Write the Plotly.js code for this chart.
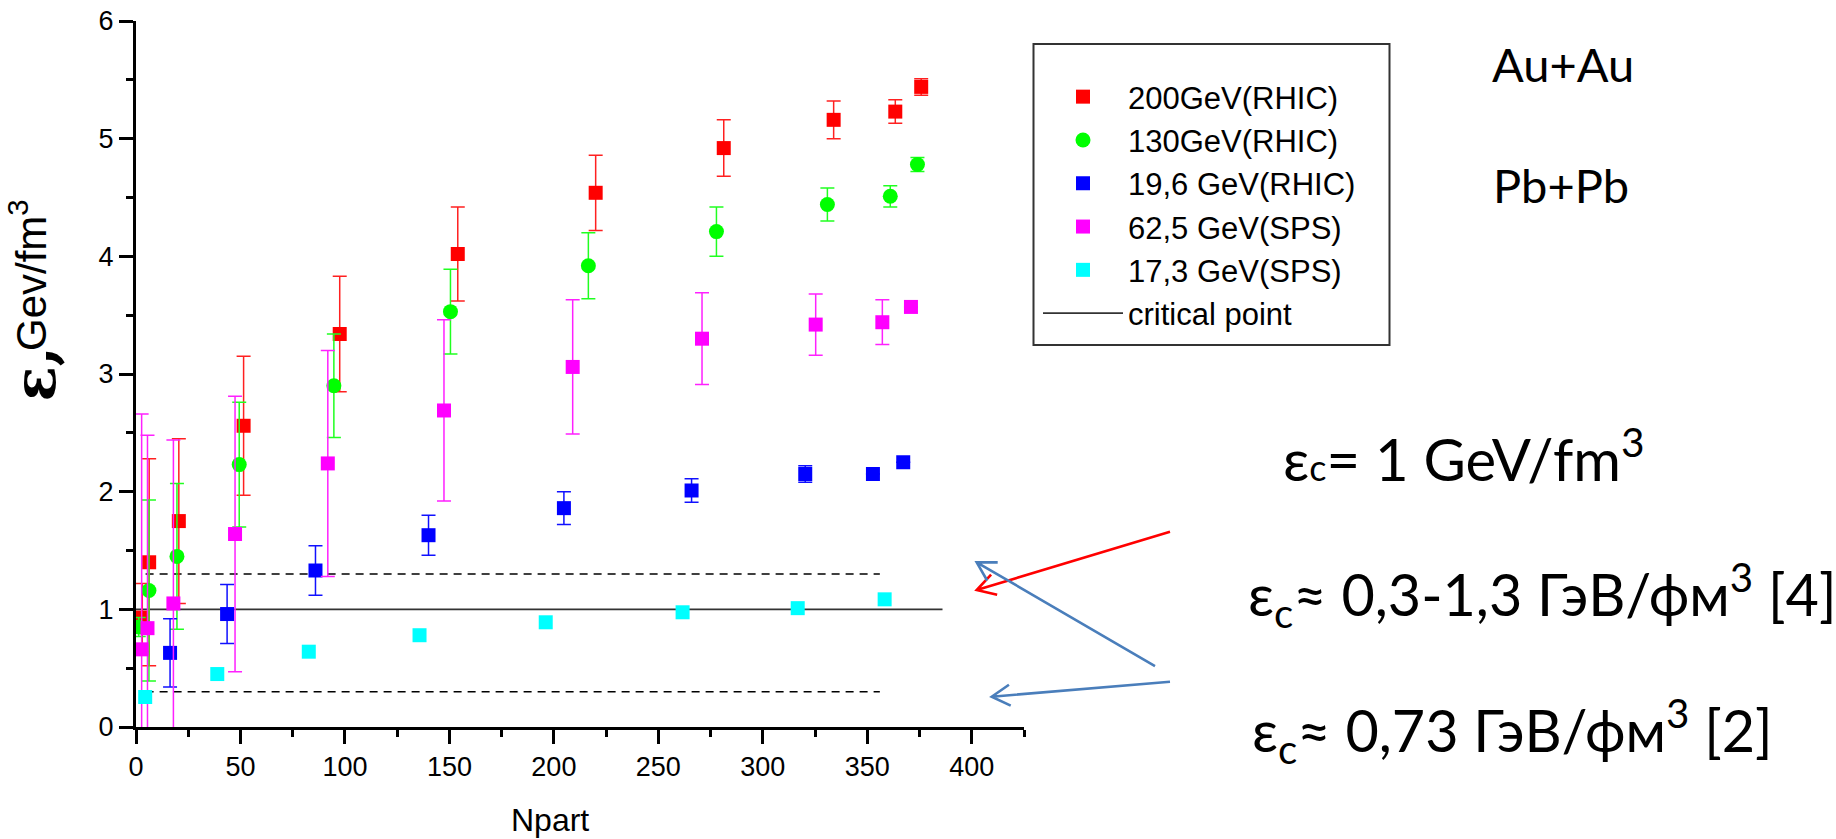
<!DOCTYPE html>
<html><head><meta charset="utf-8">
<script src="https://cdn.plot.ly/plotly-3.0.1.min.js"></script>
<style>html,body{margin:0;padding:0;background:#fff}#chart{width:1836px;height:839px}</style>
</head><body><div id="chart"></div>
<script>
// ---- data ----
const seriesNames = ['200GeV(RHIC)', '130GeV(RHIC)', '19,6 GeV(RHIC)', '62,5 GeV(SPS)', '17,3 GeV(SPS)'];

const redX   = [3, 6.3, 20.5, 51.5, 97.5, 154, 220, 281.3, 333.9, 363.4, 375.8];
const redY   = [0.93, 1.40, 1.75, 2.56, 3.34, 4.02, 4.54, 4.92, 5.16, 5.23, 5.44];
const redErr = [0.29, 0.88, 0.70, 0.59, 0.49, 0.40, 0.32, 0.24, 0.16, 0.10, 0.07];

const greenX   = [1.3, 6.2, 19.6, 49.4, 94.7, 150.5, 216.5, 277.8, 330.9, 361, 374];
const greenY   = [0.85, 1.16, 1.45, 2.23, 2.90, 3.53, 3.92, 4.21, 4.44, 4.51, 4.78];
const greenErr = [0.08, 0.77, 0.62, 0.53, 0.44, 0.36, 0.28, 0.21, 0.14, 0.09, 0.06];

const blueX   = [16.3, 43.6, 85.9, 140, 204.8, 265.9, 320.3, 352.7, 367.2];
const blueY   = [0.63, 0.96, 1.33, 1.63, 1.86, 2.01, 2.15, 2.15, 2.25];
const blueErr = [0.29, 0.25, 0.21, 0.17, 0.14, 0.10, 0.07, null, null];

const magentaX   = [2.7, 5.5, 17.9, 47.4, 91.8, 147.4, 209, 270.9, 325.3, 357.2, 370.9];
const magentaY   = [0.66, 0.84, 1.05, 1.64, 2.24, 2.69, 3.06, 3.30, 3.42, 3.44, 3.57];
const magentaErr = [2.0, 1.64, 1.39, 1.17, 0.96, 0.77, 0.57, 0.39, 0.26, 0.19, null];

const cyanX = [4.4, 38.9, 82.7, 135.7, 196.1, 261.6, 316.7, 358.3];
const cyanY = [0.255, 0.45, 0.64, 0.78, 0.89, 0.975, 1.01, 1.085];

const criticalX = [0, 386];
const criticalY = [1, 1];
const upperBandX = [4.6, 356];
const upperBandY = [1.3, 1.3];
const lowerBandX = [4.6, 356];
const lowerBandY = [0.3, 0.3];

const xTickVals = [0, 50, 100, 150, 200, 250, 300, 350, 400];
const yTickVals = [0, 1, 2, 3, 4, 5, 6];

// ---- layout helpers (pixel -> paper) ----
const W = 1836, H = 839;
const M = {l: 136, r: 812, t: 21, b: 112};
const PW = W - M.l - M.r, PH = H - M.t - M.b;
const px = v => (v - M.l) / PW;
const py = v => (H - M.b - v) / PH;

const SANS = 'Liberation Sans, Arial, sans-serif';
const SLIDE = 'Lato, Open Sans, sans-serif';

function errSpec(arr, color) {
  return {type: 'data', array: arr, visible: true, color: color, thickness: 1.5, width: 7};
}
function sq(color) { return {symbol: 'square', size: 14, color: color, line: {width: 0}}; }

const traces = [
  {x: criticalX, y: criticalY, name: 'critical point', mode: 'lines', type: 'scatter', legendrank: 6,
   line: {color: '#333333', width: 1.6}},
  {x: upperBandX, y: upperBandY, mode: 'lines', type: 'scatter', showlegend: false,
   line: {color: '#000000', width: 1.5, dash: '8px,6px'}},
  {x: lowerBandX, y: lowerBandY, mode: 'lines', type: 'scatter', showlegend: false,
   line: {color: '#000000', width: 1.5, dash: '8px,6px'}},
  {x: redX, y: redY, name: seriesNames[0], mode: 'markers', type: 'scatter', legendrank: 1,
   marker: sq('#ff0000'), error_y: errSpec(redErr, '#ff2020')},
  {x: greenX, y: greenY, name: seriesNames[1], mode: 'markers', type: 'scatter', legendrank: 2,
   marker: {symbol: 'circle', size: 15, color: '#00ff00', line: {width: 0}}, error_y: errSpec(greenErr, '#20ff20')},
  {x: blueX, y: blueY, name: seriesNames[2], mode: 'markers', type: 'scatter', legendrank: 3,
   marker: sq('#0000ff'), error_y: errSpec(blueErr, '#1010ff')},
  {x: magentaX, y: magentaY, name: seriesNames[3], mode: 'markers', type: 'scatter', legendrank: 4,
   marker: sq('#ff00ff'), error_y: errSpec(magentaErr, '#ff20ff')},
  {x: cyanX, y: cyanY, name: seriesNames[4], mode: 'markers', type: 'scatter', legendrank: 5,
   marker: sq('#00ffff')}
];

// arrows (decoration): tail -> tip in page pixels
const arrows = [
  {tail: [1170, 531.7], tip: [976.7, 590], color: '#ff0000', width: 2.6},
  {tail: [1155, 666], tip: [976.7, 562.3], color: '#4a7ebb', width: 2.6},
  {tail: [1170, 681.7], tip: [991.7, 696.7], color: '#4a7ebb', width: 2.6}
];
const shapes = [];
arrows.forEach(a => {
  const dx = a.tail[0] - a.tip[0], dy = a.tail[1] - a.tip[1];
  const ang = Math.atan2(dy, dx), L = 21, h = Math.PI / 6;
  const a1 = [a.tip[0] + L * Math.cos(ang + h), a.tip[1] + L * Math.sin(ang + h)];
  const a2 = [a.tip[0] + L * Math.cos(ang - h), a.tip[1] + L * Math.sin(ang - h)];
  const P = p => px(p[0]).toFixed(5) + ',' + py(p[1]).toFixed(5);
  shapes.push({type: 'path', xref: 'paper', yref: 'paper', layer: 'above',
    path: 'M' + P(a.tail) + 'L' + P(a.tip) + 'M' + P(a1) + 'L' + P(a.tip) + 'L' + P(a2),
    line: {color: a.color, width: a.width}});
});
// legend frame
shapes.push({type: 'rect', xref: 'paper', yref: 'paper',
  x0: px(1033.5), x1: px(1389.5), y0: py(345), y1: py(44),
  line: {color: '#333333', width: 2}, fillcolor: 'rgba(0,0,0,0)'});

const annotations = [
  // y-axis title
  {xref: 'paper', yref: 'paper', x: px(34), y: py(374.5), text: '<b>ε,</b>', showarrow: false, textangle: -90,
   font: {family: 'DejaVu Serif, Liberation Serif, serif', size: 58, color: '#000'}, xanchor: 'center', yanchor: 'middle'},
  {xref: 'paper', yref: 'paper', x: px(28), y: py(275), text: 'Gev/fm<sup>3</sup>', showarrow: false, textangle: -90,
   font: {family: SANS, size: 42, color: '#000'}, xanchor: 'center', yanchor: 'middle'},
  // x-axis title
  {xref: 'paper', yref: 'paper', x: px(550), y: py(820), text: 'Npart', showarrow: false,
   font: {family: SANS, size: 32, color: '#000'}, xanchor: 'center', yanchor: 'middle'},
  // side texts
  {xref: 'paper', yref: 'paper', x: px(1490), y: py(64), text: 'Au+Au', showarrow: false,
   font: {family: SLIDE, size: 47, color: '#000'}, xanchor: 'left', yanchor: 'middle'},
  {xref: 'paper', yref: 'paper', x: px(1491), y: py(185), text: 'Pb+Pb', showarrow: false,
   font: {family: SLIDE, size: 47, color: '#000'}, xanchor: 'left', yanchor: 'middle'},
  {xref: 'paper', yref: 'paper', x: px(1281), y: py(455), text: 'ε<span style="font-size:36px">c</span>= 1 GeV/fm<sup>3</sup>', showarrow: false,
   font: {family: SLIDE, size: 58, color: '#000'}, xanchor: 'left', yanchor: 'middle'},
  {xref: 'paper', yref: 'paper', x: px(1246), y: py(594), text: 'ε<sub>c</sub>≈ 0,3-1,3 ГэВ/фм<sup>3</sup> [4]', showarrow: false,
   font: {family: SLIDE, size: 57.5, color: '#000'}, xanchor: 'left', yanchor: 'middle'},
  {xref: 'paper', yref: 'paper', x: px(1250), y: py(730), text: 'ε<sub>c</sub>≈ 0,73 ГэВ/фм<sup>3</sup> [2]', showarrow: false,
   font: {family: SLIDE, size: 57.5, color: '#000'}, xanchor: 'left', yanchor: 'middle'}
];

const layout = {
  width: W, height: H,
  margin: M,
  paper_bgcolor: '#ffffff', plot_bgcolor: '#ffffff',
  showlegend: true,
  legend: {xref: 'container', yref: 'container', x: 1038 / W, y: 1 - 70 / H,
    xanchor: 'left', yanchor: 'top', bgcolor: 'rgba(0,0,0,0)', borderwidth: 0,
    itemwidth: 80, font: {family: SANS, size: 31, color: '#000'}},
  xaxis: {range: [0, 425], tickvals: xTickVals, ticks: 'outside', ticklen: 14, tickwidth: 3, tickcolor: '#000',
    showline: true, linewidth: 3, linecolor: '#000', showgrid: false, zeroline: false,
    tickfont: {family: SANS, size: 27, color: '#000'},
    minor: {dtick: 25, ticks: 'outside', ticklen: 7, tickwidth: 3, tickcolor: '#000', showgrid: false}},
  yaxis: {range: [0, 6], tickvals: yTickVals, ticks: 'outside', ticklen: 14, tickwidth: 3, tickcolor: '#000',
    showline: true, linewidth: 3, linecolor: '#000', showgrid: false, zeroline: false,
    tickfont: {family: SANS, size: 27, color: '#000'},
    minor: {dtick: 0.5, ticks: 'outside', ticklen: 7, tickwidth: 3, tickcolor: '#000', showgrid: false}},
  shapes: shapes,
  annotations: annotations
};

Plotly.newPlot('chart', traces, layout, {displayModeBar: false, staticPlot: true});
</script>
</body></html>
